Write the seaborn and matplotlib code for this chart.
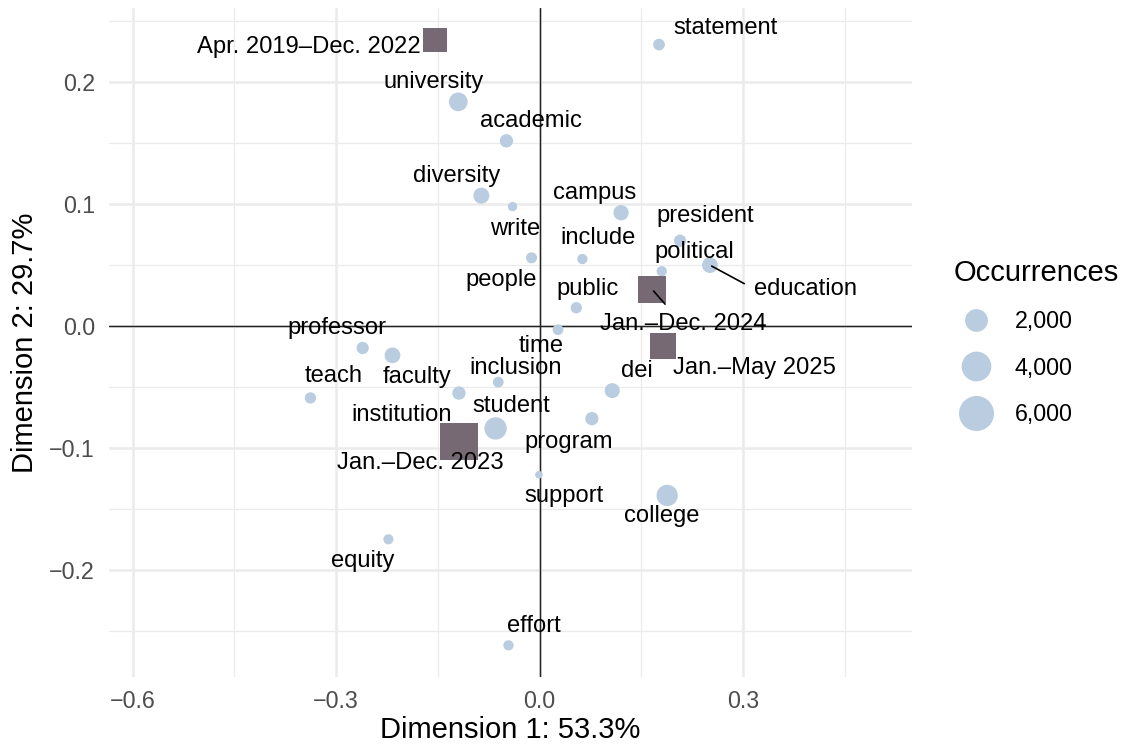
import numpy as np
import pandas as pd
import matplotlib
matplotlib.use("Agg")
import matplotlib.pyplot as plt
from matplotlib.colors import FuncNorm
from matplotlib.lines import Line2D
from matplotlib.ticker import MultipleLocator, AutoMinorLocator
import seaborn as sns

# mots (colonnes) de l'analyse des correspondances
words = ["statement", "university", "academic", "diversity", "write", "campus",
         "president", "include", "people", "political", "education", "public",
         "time", "professor", "faculty", "inclusion", "dei", "teach",
         "institution", "student", "program", "support", "college", "equity",
         "effort"]
word_dim1 = [0.176, -0.120, -0.049, -0.086, -0.040, 0.120,
             0.207, 0.063, -0.012, 0.180, 0.251, 0.054,
             0.027, -0.261, -0.217, -0.061, 0.107, -0.338,
             -0.119, -0.065, 0.077, -0.001, 0.188, -0.223,
             -0.046]
word_dim2 = [0.231, 0.184, 0.152, 0.107, 0.098, 0.093,
             0.070, 0.055, 0.056, 0.045, 0.050, 0.015,
             -0.003, -0.018, -0.024, -0.046, -0.053, -0.059,
             -0.055, -0.084, -0.076, -0.122, -0.139, -0.175,
             -0.262]
word_occ = [230, 1150, 380, 710, 80, 615,
            280, 130, 180, 130, 670, 200,
            160, 280, 670, 160, 575, 200,
            380, 1890, 380, 20, 1665, 120,
            130]

# périodes (lignes)
periods = ["Apr. 2019–Dec. 2022", "Jan.–Dec. 2023", "Jan.–Dec. 2024", "Jan.–May 2025"]
period_dim1 = [-0.154, -0.119, 0.166, 0.182]
period_dim2 = [0.235, -0.095, 0.030, -0.016]
period_occ = [2300, 6900, 3400, 2850]

legend_breaks = [2000, 4000, 6000]

# décalage des étiquettes (pixels), façon ggrepel
word_offsets = [(66, 17), (-25, 20), (25, 20), (-25, 20), (3, -22), (-26, 20),
                (25, 25), (16, 21), (-30, -22), (33, 19), (96, -24), (11, 19),
                (-17, -16), (-26, 20), (25, -22), (17, 14), (25, 20), (23, 22),
                (-57, -22), (16, 22), (-23, -23), (25, -21), (-5, -21), (-26, -22),
                (25, 19)]
period_offsets = [(-126, -7), (-39, -21), (31, -35), (91, -22)]
segments = {"education": (0.0, 0.5), "Jan.–Dec. 2024": (0.44, 1.0)}

df_words = pd.DataFrame({"label": words, "dim1": word_dim1, "dim2": word_dim2, "occ": word_occ})
df_periods = pd.DataFrame({"label": periods, "dim1": period_dim1, "dim2": period_dim2, "occ": period_occ})

sns.set_theme(style="white")
plt.rcParams["font.family"] = ["Liberation Sans", "DejaVu Sans"]
plt.rcParams["text.color"] = "black"

# échelle de taille façon ggplot (diamètre ~ racine des occurrences)
size_norm = FuncNorm((lambda v: (16 + np.sqrt(v)) ** 2, lambda y: (np.sqrt(y) - 16) ** 2), vmin=0, vmax=7000)
k = 0.0324
size_range = (k * 16 ** 2, k * (16 + np.sqrt(7000)) ** 2)

word_col = "#b9cce0"
period_col = "#766973"

fig = plt.figure(figsize=(7.5, 746 / 150), dpi=150)
ax = fig.add_axes([109 / 1125, 1 - 677 / 746, 803 / 1125, 669 / 746])

ax.axhline(0, color="#222222", lw=0.7, zorder=1)
ax.axvline(0, color="#222222", lw=0.7, zorder=1)

sns.scatterplot(data=df_words, x="dim1", y="dim2", size="occ", sizes=size_range, size_norm=size_norm,
                color=word_col, linewidth=0, legend=False, ax=ax, zorder=3)
sns.scatterplot(data=df_periods, x="dim1", y="dim2", size="occ", sizes=size_range, size_norm=size_norm,
                color=period_col, marker="s", linewidth=0, legend=False, ax=ax, zorder=4)

for df, offs in [(df_words, word_offsets), (df_periods, period_offsets)]:
    for (lab, x, y), (dx, dy) in zip(df[["label", "dim1", "dim2"]].values, offs):
        arrow = None
        if lab in segments:
            arrow = dict(arrowstyle="-", color="black", lw=0.8, relpos=segments[lab], shrinkA=3, shrinkB=1)
        ax.annotate(lab, (x, y), xytext=(dx, dy), textcoords="offset pixels", ha="center", va="center",
                    fontsize=11.4, color="black", arrowprops=arrow, zorder=5)

ax.set_xlim(-0.635, 0.549)
ax.set_ylim(-0.288, 0.261)
ax.xaxis.set_major_locator(MultipleLocator(0.3))
ax.yaxis.set_major_locator(MultipleLocator(0.1))
ax.xaxis.set_minor_locator(AutoMinorLocator(2))
ax.yaxis.set_minor_locator(AutoMinorLocator(2))
ax.grid(which="major", color="#ebebeb", lw=1.2, zorder=0)
ax.grid(which="minor", color="#ebebeb", lw=0.6, zorder=0)
ax.set_axisbelow(True)
for s in ax.spines.values():
    s.set_visible(False)
ax.tick_params(which="both", length=0, labelsize=11.2, labelcolor="#4d4d4d")
ax.tick_params(axis="x", pad=6.2)
ax.tick_params(axis="y", pad=6.7)

ax.set_xlabel("Dimension 1: 53.3%", fontsize=14, color="black")
ax.set_ylabel("Dimension 2: 29.7%", fontsize=14, color="black")
ax.xaxis.set_label_coords(0.5, -0.0795)
ax.xaxis.label.set_va("center")
ax.yaxis.set_label_coords(-0.1046, 0.5)
ax.yaxis.label.set_va("center")

handles = [Line2D([], [], marker="o", linestyle="", color=word_col, markeredgewidth=0,
                  markersize=np.sqrt(k) * (16 + np.sqrt(b))) for b in legend_breaks]
leg = ax.legend(handles, [f"{b:,}" for b in legend_breaks], title="Occurrences",
                loc="upper left", bbox_to_anchor=(954 / 1125, 1 - 259 / 746), bbox_transform=fig.transFigure,
                frameon=False, fontsize=11.2, title_fontsize=14, alignment="left", borderpad=0,
                borderaxespad=0, handlelength=1.9, handletextpad=0.7, labelspacing=1.0, labelcolor="black")
leg.get_title().set_color("black")

fig.savefig("out.png", dpi=150)
